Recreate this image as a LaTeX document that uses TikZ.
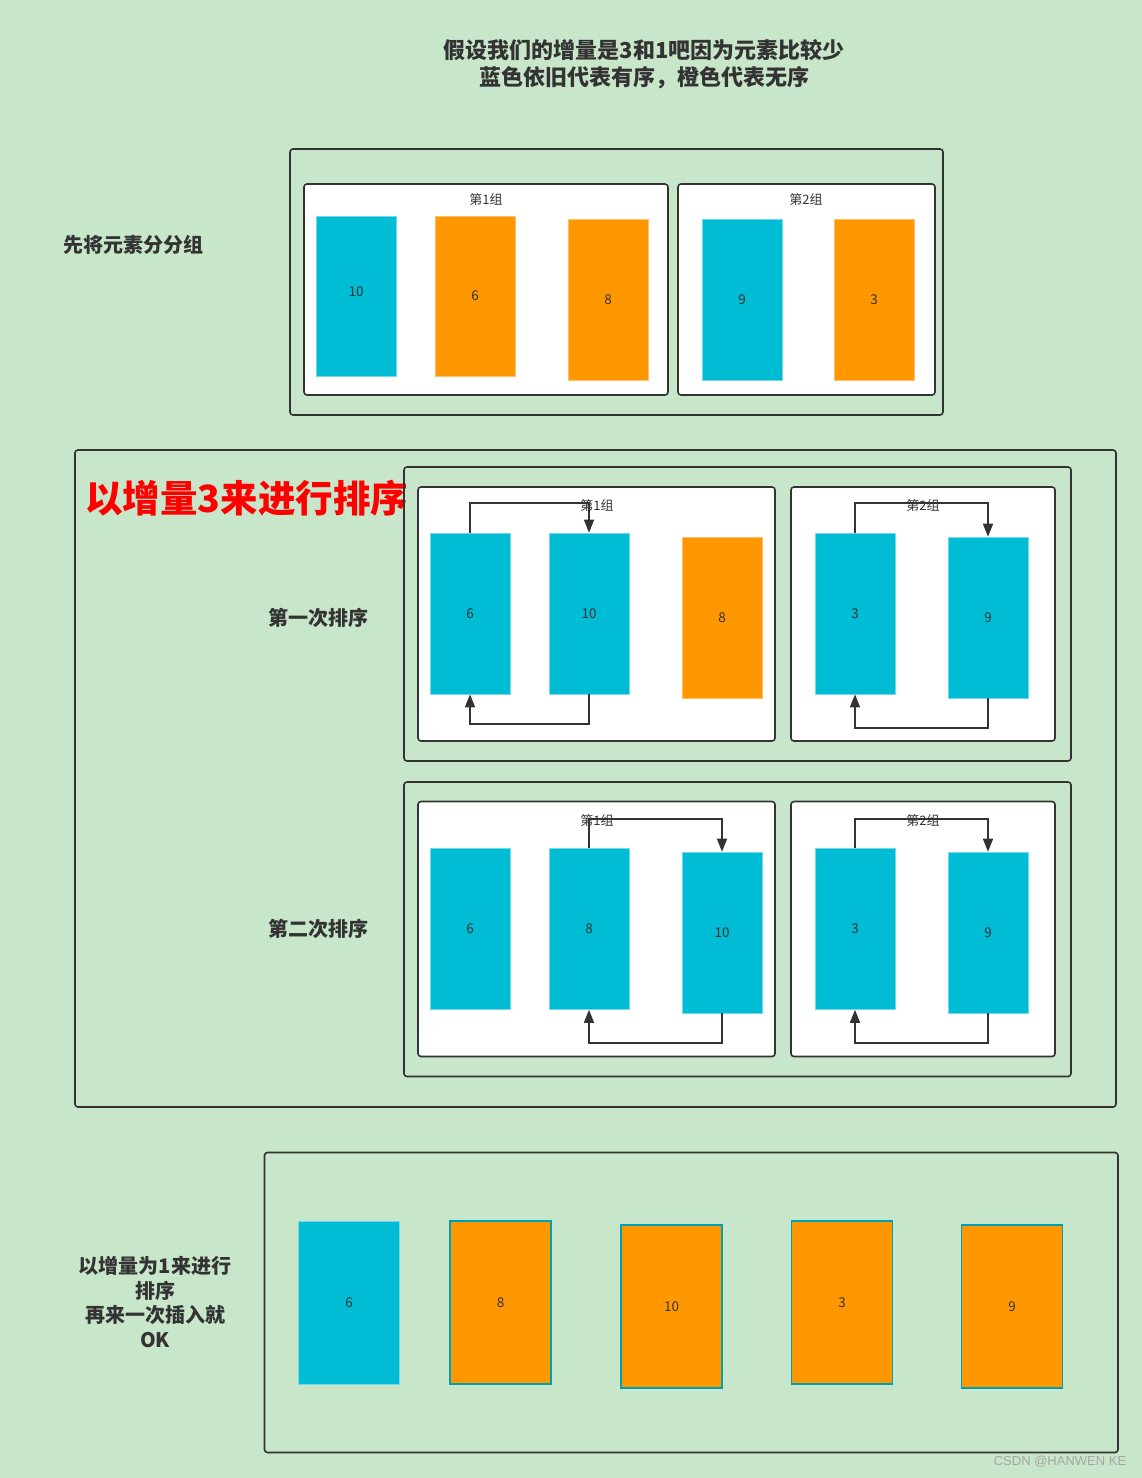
\documentclass[tikz,border=0pt]{standalone}
\usepackage{fontspec}
\setmainfont{Noto Sans CJK SC}
\newfontfamily\wmfont{Liberation Sans}
\usetikzlibrary{arrows.meta}
\definecolor{bg}{HTML}{C8E6C9}
\definecolor{cyanb}{HTML}{00BCD4}
\definecolor{orng}{HTML}{FF9800}
\definecolor{dk}{HTML}{333333}
\tikzset{
  sect/.style={draw=dk, line width=1.6pt, rounded corners=3pt},
  grp/.style={draw=dk, line width=1.6pt, rounded corners=3pt, fill=white},
  cy/.style={fill=cyanb, draw=cyanb!55!white, line width=0.6pt, minimum width=80pt, minimum height=161pt, inner sep=0pt, text=dk, font=\fontsize{13.5}{15}\selectfont},
  orb/.style={cy, fill=orng, draw=orng!60!white},
  cy3/.style={cy, minimum width=101pt, minimum height=163pt},
  orc/.style={cy3, fill=orng, draw=cyanb!85!black, line width=1.8pt},
  conn/.style={draw=dk, line width=1.6pt, -{Triangle[length=13pt,width=10pt]}},
  glbl/.style={font=\fontsize{13}{15}\selectfont, text=dk, inner sep=0pt},
  big/.style={font=\bfseries\fontsize{20}{24.7}\selectfont, text=dk, align=center, inner sep=0pt},
}
\begin{document}
\begin{tikzpicture}[x=1pt,y=-1pt]
\useasboundingbox (0,0) rectangle (1142,1478);
\fill[bg] (0,0) rectangle (1142,1478);

% title
\node[big, font=\bfseries\fontsize{22}{27}\selectfont] (title) at (644,64.5) {假设我们的增量是3和1吧因为元素比较少\\蓝色依旧代表有序，橙色代表无序};

% section 1
\node[big] (lab1) at (133,245) {先将元素分分组};
\draw[sect] (290,149) rectangle (943,415);
\draw[grp] (304,184) rectangle (668,395);
\draw[grp] (678,184) rectangle (935,395);
\node[glbl] (g11) at (486,200) {第1组};
\node[glbl] (g12) at (806,200) {第2组};
\node[cy, minimum height=160pt] (a10) at (356,296) {\raisebox{8pt}{10}};
\node[orb, minimum height=160pt] (a6) at (475,296) {6};
\node[orb] (a8) at (608,299.5) {8};
\node[cy] (a9) at (742,299.5) {9};
\node[orb] (a3) at (874,299.5) {3};

% section 2
\draw[sect] (75,450) rectangle (1116,1107);
\node[font=\bfseries\fontsize{37.5}{40}\selectfont, text=red, anchor=west, inner sep=0pt] (red) at (85,498) {以增量3来进行排序};

% row 1
\node[big] (lab2) at (318,618) {第一次排序};
\draw[sect] (404,467) rectangle (1071,761);
\draw[grp] (418,487) rectangle (775,741);
\draw[grp] (791,487) rectangle (1055,741);
\node[cy] (b6) at (470,613.5) {6};
\node[cy] (b10) at (589,613.5) {10};
\node[orb] (b8) at (722,617.5) {8};
\node[cy] (b3) at (855,613.5) {3};
\node[cy] (b9) at (988,617.5) {9};
\draw[conn] (b6.north) -- ++(0,-29.5) -| (b10.north);
\draw[conn] (b10.south) -- ++(0,29.5) -| (b6.south);
\draw[conn] (b3.north) -- ++(0,-29.5) -| (b9.north);
\draw[conn] (b9.south) -- ++(0,29.5) -| (b3.south);
\node[glbl] (g21) at (597,506) {第1组};
\node[glbl] (g22) at (923,506) {第2组};

% row 2
\node[big] (lab3) at (318,929) {第二次排序};
\draw[sect] (404,782) rectangle (1071,1076.5);
\draw[grp] (418,801.5) rectangle (775,1056.5);
\draw[grp] (791,801.5) rectangle (1055,1056.5);
\node[cy] (c6) at (470,929) {6};
\node[cy] (c8) at (589,929) {8};
\node[cy] (c10) at (722,932.5) {10};
\node[cy] (c3) at (855,929) {3};
\node[cy] (c9) at (988,932.5) {9};
\draw[conn] (c8.north) -- ++(0,-29.5) -| (c10.north);
\draw[conn] (c10.south) -- ++(0,29.5) -| (c8.south);
\draw[conn] (c3.north) -- ++(0,-29.5) -| (c9.north);
\draw[conn] (c9.south) -- ++(0,29.5) -| (c3.south);
\node[glbl] (g31) at (597,821) {第1组};
\node[glbl] (g32) at (923,821) {第2组};

% section 3
\node[big] (lab4) at (155,1302) {以增量为1来进行\\排序\\再来一次插入就\\OK};
\draw[sect] (264.5,1152.5) rectangle (1118,1452.5);
\node[cy3] (d6) at (349,1302.5) {6};
\node[orc] (d8) at (500.5,1302.5) {8};
\node[orc] (d10) at (671.5,1306.5) {10};
\node[orc] (d3) at (842,1302.5) {3};
\node[orc] (d9) at (1012,1306.5) {9};

\node[font=\wmfont\fontsize{13}{15}\selectfont, text=black!35, inner sep=0pt] (wm) at (1060,1462) {CSDN @HANWEN KE};
\end{tikzpicture}
\end{document}
